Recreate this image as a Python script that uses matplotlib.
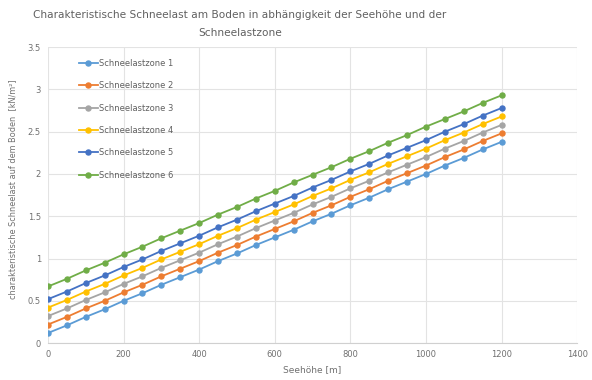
import matplotlib.pyplot as plt

# Seehöhe in m (alle 50 m)
hoehe = list(range(0, 1201, 50))

zone1 = [0.12, 0.21, 0.31, 0.40, 0.50, 0.59, 0.69, 0.78, 0.87, 0.97, 1.06, 1.16, 1.25,
         1.34, 1.44, 1.53, 1.63, 1.72, 1.82, 1.91, 2.00, 2.10, 2.19, 2.29, 2.38]
zone2 = [0.22, 0.31, 0.41, 0.50, 0.60, 0.69, 0.79, 0.88, 0.97, 1.07, 1.16, 1.26, 1.35,
         1.44, 1.54, 1.63, 1.73, 1.82, 1.92, 2.01, 2.10, 2.20, 2.29, 2.39, 2.48]
zone3 = [0.32, 0.41, 0.51, 0.60, 0.70, 0.79, 0.89, 0.98, 1.07, 1.17, 1.26, 1.36, 1.45,
         1.54, 1.64, 1.73, 1.83, 1.92, 2.02, 2.11, 2.20, 2.30, 2.39, 2.49, 2.58]
zone4 = [0.42, 0.51, 0.61, 0.70, 0.80, 0.89, 0.99, 1.08, 1.17, 1.27, 1.36, 1.46, 1.55,
         1.64, 1.74, 1.83, 1.93, 2.02, 2.12, 2.21, 2.30, 2.40, 2.49, 2.59, 2.68]
zone5 = [0.52, 0.61, 0.71, 0.80, 0.90, 0.99, 1.09, 1.18, 1.27, 1.37, 1.46, 1.56, 1.65,
         1.74, 1.84, 1.93, 2.03, 2.12, 2.22, 2.31, 2.40, 2.50, 2.59, 2.69, 2.78]
zone6 = [0.67, 0.76, 0.86, 0.95, 1.05, 1.14, 1.24, 1.33, 1.42, 1.52, 1.61, 1.71, 1.80,
         1.90, 1.99, 2.08, 2.18, 2.27, 2.37, 2.46, 2.56, 2.65, 2.74, 2.84, 2.93]

namen = ['Schneelastzone 1', 'Schneelastzone 2', 'Schneelastzone 3',
         'Schneelastzone 4', 'Schneelastzone 5', 'Schneelastzone 6']
farben = ['#5B9BD5', '#ED7D31', '#A5A5A5', '#FFC000', '#4472C4', '#70AD47']

fig = plt.figure(figsize=(5.92, 3.8), dpi=100)
ax = fig.add_axes([0.081, 0.097, 0.894, 0.779])

for werte, name, farbe in zip([zone1, zone2, zone3, zone4, zone5, zone6], namen, farben):
    ax.plot(hoehe, werte, color=farbe, marker='o', markersize=3.6, linewidth=1.3, label=name)

ax.set_xlim(0, 1400)
ax.set_ylim(0, 3.5)
ax.set_xticks(range(0, 1401, 200))
ax.set_yticks([0, 0.5, 1, 1.5, 2, 2.5, 3, 3.5])
ax.set_yticklabels(['0', '0.5', '1', '1.5', '2', '2.5', '3', '3.5'])
ax.grid(True, color='#e3e3e3', linewidth=0.8)
ax.set_axisbelow(True)
for s in ['top', 'right', 'left']:
    ax.spines[s].set_visible(False)
ax.spines['bottom'].set_color('#d0d0d0')
ax.tick_params(length=0, labelsize=6, colors='#707070', pad=5)

ax.set_xlabel('Seehöhe [m]', fontsize=6.5, color='#707070', labelpad=4)
ax.set_ylabel('charakteristische Schneelast auf dem Boden  [kN/m²]', fontsize=5.9,
              color='#707070')
ax.yaxis.set_label_coords(-0.058, 0.52)
fig.text(0.405, 0.975, 'Charakteristische Schneelast am Boden in abhängigkeit der Seehöhe und der\nSchneelastzone',
         fontsize=7.6, color='#606060', ha='center', va='top', linespacing=2.0)

leg = ax.legend(loc='upper left', bbox_to_anchor=(0.045, 0.985), frameon=False, fontsize=6,
                labelspacing=1.6, handlelength=2.2, handletextpad=0.2)
for t in leg.get_texts():
    t.set_color('#606060')

fig.savefig('out.png', dpi=100)
